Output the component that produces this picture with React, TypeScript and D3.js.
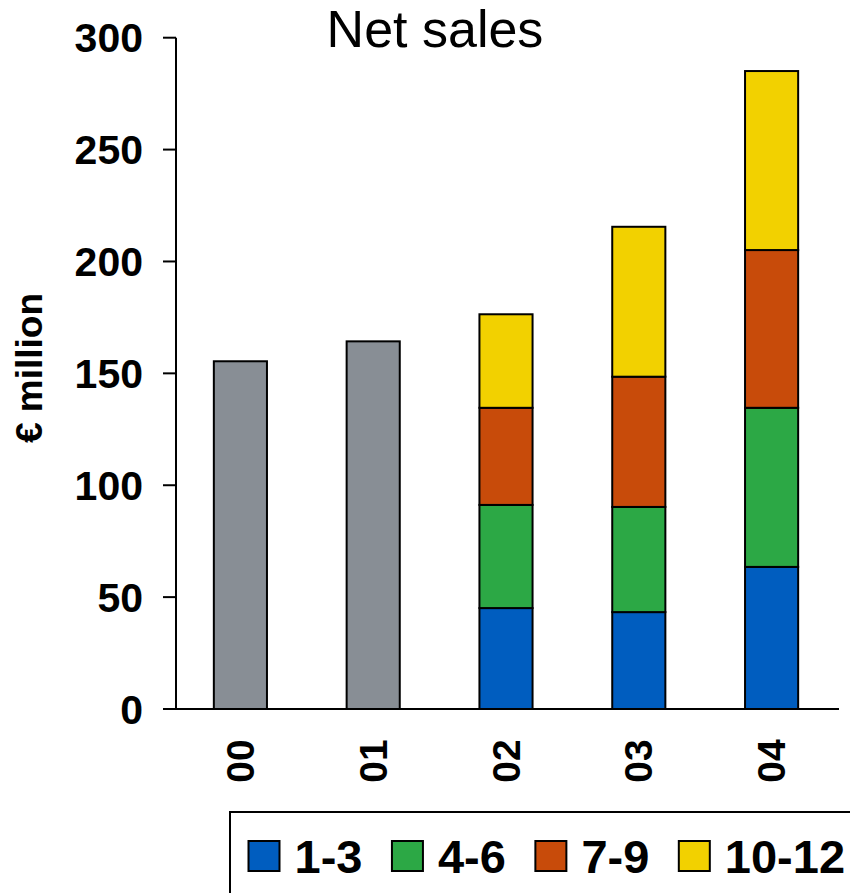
import React, { useEffect, useRef } from "react";
import * as d3 from "d3";

// Fiscal years shown on the x axis
const years = ["00", "01", "02", "03", "04"];
// Full-year net sales for the years without a quarterly split (€ million)
const annualYears = ["00", "01"];
const annualSales = [155.4, 164.3];
// Quarterly split for the later years (€ million)
const quarterYears = ["02", "03", "04"];
const q1to3 = [45.1, 43.3, 63.5];
const q4to6 = [46.1, 47.0, 71.1];
const q7to9 = [43.4, 58.2, 70.5];
const q10to12 = [41.8, 67.0, 80.0];
const quarterLabels = ["1-3", "4-6", "7-9", "10-12"];
const quarterColors = ["#005DBF", "#2CA845", "#C84B0A", "#F2D100"];
const annualColor = "#888E95";
const yTicks = [0, 50, 100, 150, 200, 250, 300];

const W = 850;
const H = 893;
const FONT = "'Liberation Sans', Arial, Helvetica, sans-serif";

export default function App() {
  const ref = useRef<SVGSVGElement | null>(null);

  useEffect(() => {
    const svg = d3.select(ref.current);
    svg.selectAll("*").remove();

    const axisX = 176;
    const y = d3.scaleLinear().domain([0, 300]).range([709, 37.7]);
    const x = d3
      .scaleBand<string>()
      .domain(years)
      .range([174, 838])
      .paddingInner(0.6)
      .paddingOuter(0.3);

    // Title
    svg
      .append("text")
      .attr("x", 435)
      .attr("y", 47)
      .attr("text-anchor", "middle")
      .attr("font-family", FONT)
      .attr("font-size", 52)
      .attr("fill", "#000")
      .text("Net sales");

    // Y-axis title
    svg
      .append("text")
      .attr("transform", `translate(42,368) rotate(-90)`)
      .attr("text-anchor", "middle")
      .attr("font-family", FONT)
      .attr("font-weight", "bold")
      .attr("font-size", 37)
      .attr("fill", "#000")
      .text("€ million");

    // Annual bars
    const annual = annualYears.map((yr, i) => ({ yr, v: annualSales[i] }));
    svg
      .append("g")
      .selectAll("rect")
      .data(annual)
      .join("rect")
      .attr("x", (d) => x(d.yr)!)
      .attr("width", x.bandwidth())
      .attr("y", (d) => y(d.v))
      .attr("height", (d) => y(0) - y(d.v))
      .attr("fill", annualColor)
      .attr("stroke", "#000")
      .attr("stroke-width", 2);

    // Stacked quarterly bars
    const rows = quarterYears.map((yr, i) => ({
      yr,
      "1-3": q1to3[i],
      "4-6": q4to6[i],
      "7-9": q7to9[i],
      "10-12": q10to12[i],
    }));
    const stacked = d3.stack<any>().keys(quarterLabels)(rows);
    svg
      .append("g")
      .selectAll("g")
      .data(stacked)
      .join("g")
      .attr("fill", (_, i) => quarterColors[i])
      .selectAll("rect")
      .data((s) => s)
      .join("rect")
      .attr("x", (d: any) => x(d.data.yr)!)
      .attr("width", x.bandwidth())
      .attr("y", (d) => y(d[1]))
      .attr("height", (d) => y(d[0]) - y(d[1]))
      .attr("stroke", "#000")
      .attr("stroke-width", 2);

    // Axes
    const axes = svg.append("g").attr("stroke", "#000").attr("stroke-width", 2);
    axes
      .append("line")
      .attr("x1", axisX)
      .attr("x2", axisX)
      .attr("y1", y(300))
      .attr("y2", y(0));
    axes
      .append("line")
      .attr("x1", 163)
      .attr("x2", 839)
      .attr("y1", y(0))
      .attr("y2", y(0));
    axes
      .selectAll("line.tick")
      .data(yTicks)
      .join("line")
      .attr("class", "tick")
      .attr("x1", 163)
      .attr("x2", axisX)
      .attr("y1", (d) => y(d))
      .attr("y2", (d) => y(d));

    svg
      .append("g")
      .selectAll("text")
      .data(yTicks)
      .join("text")
      .attr("x", 143)
      .attr("y", (d) => y(d) + 14.5)
      .attr("text-anchor", "end")
      .attr("font-family", FONT)
      .attr("font-weight", "bold")
      .attr("font-size", 41)
      .attr("fill", "#000")
      .text((d) => String(d));

    // Category labels, rotated
    svg
      .append("g")
      .selectAll("text")
      .data(years)
      .join("text")
      .attr(
        "transform",
        (d) => `translate(${x(d)! + x.bandwidth() / 2 + 13.5},761) rotate(-90)`
      )
      .attr("text-anchor", "middle")
      .attr("font-family", FONT)
      .attr("font-weight", "bold")
      .attr("font-size", 39)
      .attr("fill", "#000")
      .text((d) => d);

    // Legend
    const lg = svg.append("g");
    lg.append("rect")
      .attr("x", 230)
      .attr("y", 812)
      .attr("width", 700)
      .attr("height", 200)
      .attr("fill", "#fff")
      .attr("stroke", "#000")
      .attr("stroke-width", 2);
    let cx = 248.5;
    quarterLabels.forEach((lab, i) => {
      lg.append("rect")
        .attr("x", cx)
        .attr("y", 841)
        .attr("width", 31)
        .attr("height", 30)
        .attr("fill", quarterColors[i])
        .attr("stroke", "#000")
        .attr("stroke-width", 2);
      const t = lg
        .append("text")
        .attr("x", cx + 46)
        .attr("y", 873)
        .attr("font-family", FONT)
        .attr("font-weight", "bold")
        .attr("font-size", 47)
        .attr("fill", "#000")
        .text(lab);
      const len = (t.node() as SVGTextElement).getComputedTextLength();
      cx = cx + 46 + len + 29.5;
    });
  }, []);

  return (
    <svg
      ref={ref}
      width={W}
      height={H}
      style={{ position: "absolute", left: 0, top: 0, display: "block", background: "#fff" }}
    />
  );
}
